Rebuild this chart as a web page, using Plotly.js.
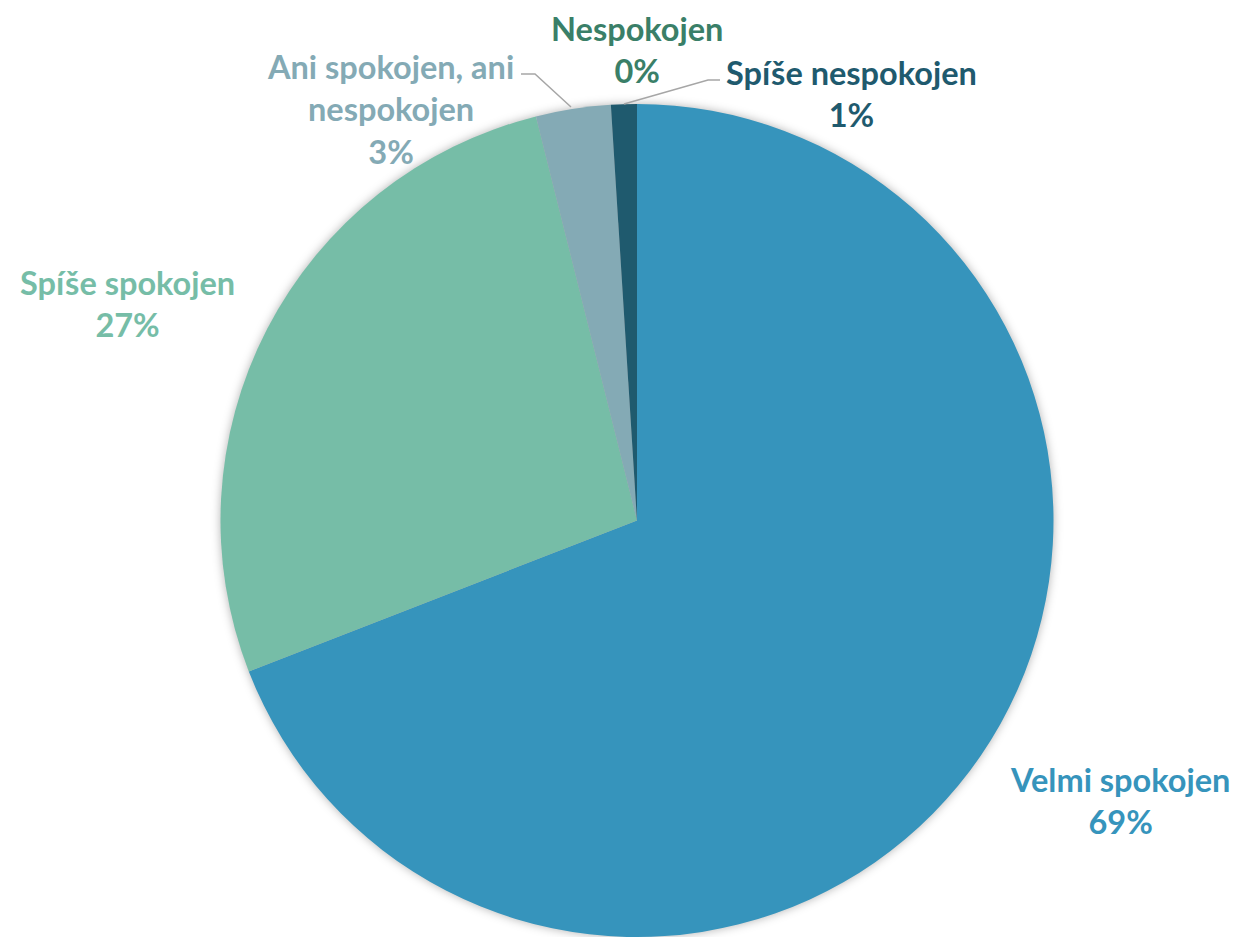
<!DOCTYPE html>
<html>
<head>
<meta charset="utf-8">
<script src="https://cdn.plot.ly/plotly-3.0.1.min.js"></script>
<style>
  html, body { margin: 0; padding: 0; background: #ffffff; }
  #chart { width: 1240px; height: 937px; }
  .pielayer { filter: drop-shadow(0px 0px 5px rgba(0,0,0,0.30)); }
</style>
</head>
<body>
<div id="chart"></div>
<script>
// Data
const categories = ["Velmi spokojen", "Spíše spokojen", "Ani spokojen, ani nespokojen", "Nespokojen", "Spíše nespokojen"];
const labelLines = ["Velmi spokojen", "Spíše spokojen", "Ani spokojen, ani<br>nespokojen", "Nespokojen", "Spíše nespokojen"];
const values = [69.1, 27.0, 2.9, 0.0, 1.0];
const percentLabels = ["69%", "27%", "3%", "0%", "1%"];

// Styling
const sliceColors = ["#3694BC", "#76BDA7", "#84AAB5", "#3A7F68", "#1F5A6E"];
const labelColors = ["#3694BC", "#76BDA7", "#84AAB5", "#3A7F68", "#1F5A6E"];
const labelPos = [ // paper coords (x, y) of label centers
  [1120 / 1240, 1 - 800 / 937],
  [127 / 1240, 1 - 303 / 937],
  [390 / 1240, 1 - 109 / 937],
  [637 / 1240, 1 - 49 / 937],
  [851 / 1240, 1 - 93 / 937]
];

const FONT = "Lato, 'Open Sans', sans-serif";

const trace = {
  type: "pie",
  labels: categories,
  values: values,
  sort: false,
  direction: "clockwise",
  rotation: 0,
  textinfo: "none",
  hoverinfo: "skip",
  marker: { colors: sliceColors, line: { width: 0 } },
  domain: { x: [(637 - 417) / 1240, (637 + 417) / 1240], y: [0, (937 - 104) / 937] },
  showlegend: false
};

const annotations = categories.map((c, i) => ({
  xref: "paper", yref: "paper",
  x: labelPos[i][0], y: labelPos[i][1],
  xanchor: "center", yanchor: "middle",
  text: "<b>" + labelLines[i] + "<br>" + percentLabels[i] + "</b>",
  showarrow: false,
  align: "center",
  font: { family: FONT, size: 32.5, color: labelColors[i] }
}));

function px(x) { return x / 1240; }
function py(y) { return 1 - y / 937; }

const leaderColor = "#A6A6A6";
const shapes = [
  { type: "path", xref: "paper", yref: "paper",
    path: `M ${px(521)} ${py(74)} L ${px(535)} ${py(74)} L ${px(571)} ${py(107)}`,
    line: { color: leaderColor, width: 1.5 } },
  { type: "path", xref: "paper", yref: "paper",
    path: `M ${px(720)} ${py(80)} L ${px(708)} ${py(80)} L ${px(624)} ${py(104)}`,
    line: { color: leaderColor, width: 1.5 } }
];

const layout = {
  width: 1240, height: 937,
  margin: { l: 0, r: 0, t: 0, b: 0 },
  paper_bgcolor: "#ffffff",
  plot_bgcolor: "#ffffff",
  showlegend: false,
  annotations: annotations,
  shapes: shapes
};

Plotly.newPlot("chart", [trace], layout, { displayModeBar: false, staticPlot: true });
</script>
</body>
</html>
